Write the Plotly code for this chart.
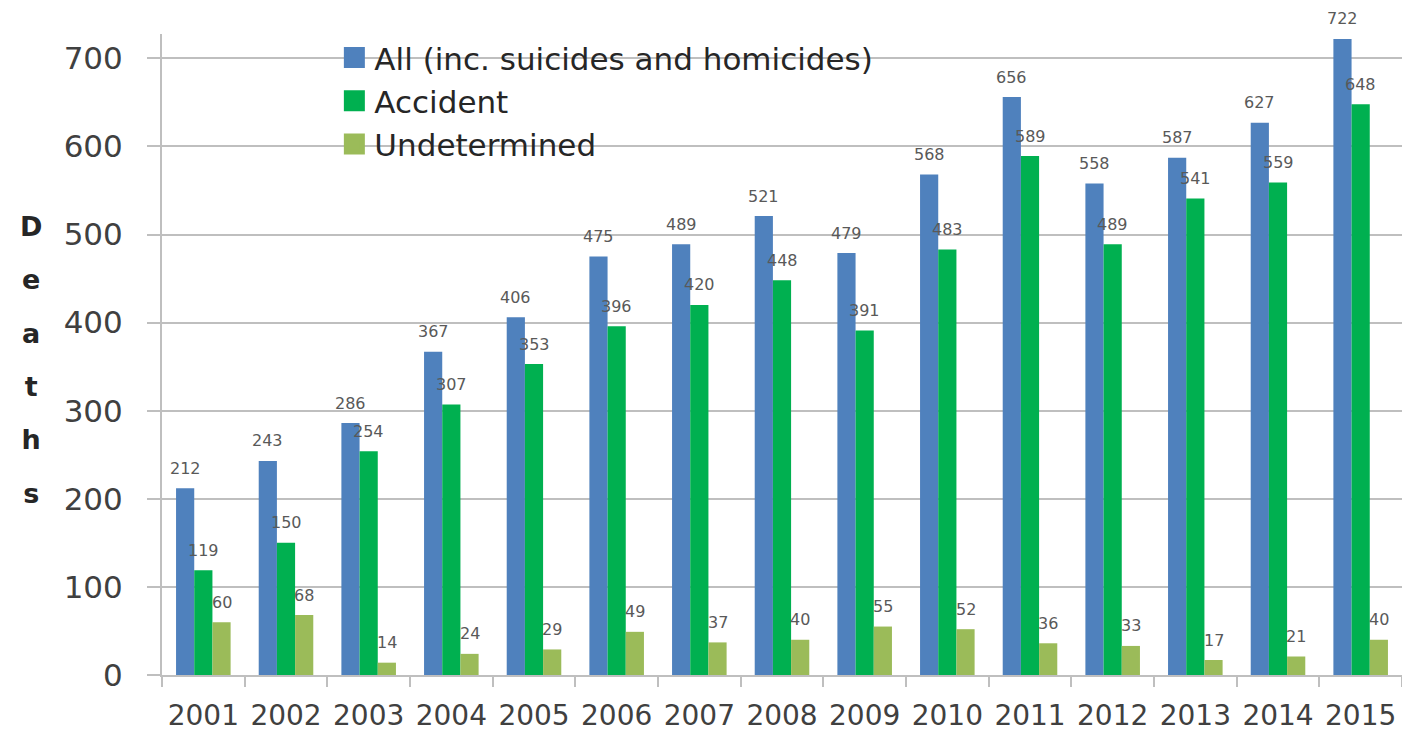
import plotly.graph_objects as go

years = ["2001", "2002", "2003", "2004", "2005", "2006", "2007", "2008",
         "2009", "2010", "2011", "2012", "2013", "2014", "2015"]
all_deaths = [212, 243, 286, 367, 406, 475, 489, 521, 479, 568, 656, 558, 587, 627, 722]
accident = [119, 150, 254, 307, 353, 396, 420, 448, 391, 483, 589, 489, 541, 559, 648]
undetermined = [60, 68, 14, 24, 29, 49, 37, 40, 55, 52, 36, 33, 17, 21, 40]

series = [
    ("All (inc. suicides and homicides)", all_deaths, "#4F81BD"),
    ("Accident", accident, "#00B050"),
    ("Undetermined", undetermined, "#9BBB59"),
]

BARGAP = 0.34
FONT = "DejaVu Sans"

fig = go.Figure()
for name, vals, col in series:
    fig.add_trace(go.Bar(x=years, y=vals, name=name, marker=dict(color=col, line=dict(width=0)),
                         showlegend=False))
# legend proxies (bigger square swatches)
for name, vals, col in series:
    fig.add_trace(go.Scatter(x=[None], y=[None], mode="markers", name=name,
                             marker=dict(symbol="square", size=16, color=col,
                                         line=dict(color=col, width=5))))

# data labels above bars
bw = (1 - BARGAP) / len(series)
annotations = []
for k, (name, vals, col) in enumerate(series):
    off = (k - (len(series) - 1) / 2) * bw
    for i, v in enumerate(vals):
        annotations.append(dict(x=i + off, y=v, xref="x", yref="y", text=str(v),
                                showarrow=False, yshift=20, yanchor="middle",
                                font=dict(family=FONT, size=16, color="#595959")))

annotations.append(dict(xref="paper", yref="paper", x=-0.106, y=0.5, xanchor="center",
                        yanchor="middle", showarrow=False, yshift=-5,
                        text="<br>".join("<span style='font-size:27px'><b>%s</b></span>" % c for c in "Deaths"),
                        font=dict(family=FONT, size=41, color="#262626")))

fig.update_layout(
    width=1402, height=732,
    margin=dict(l=162, r=0, t=34, b=57, autoexpand=False),
    paper_bgcolor="white", plot_bgcolor="white",
    barmode="group", bargap=BARGAP, bargroupgap=0,
    font=dict(family=FONT, color="#262626"),
    showlegend=True,
    legend=dict(x=0.139, y=1.005, xanchor="left", yanchor="top",
                bgcolor="rgba(0,0,0,0)", font=dict(family=FONT, size=31, color="#262626"),
                itemsizing="trace", tracegroupgap=0),
    annotations=annotations,
    xaxis=dict(type="category", showgrid=False, showline=True, linecolor="#BFBFBF", linewidth=2,
               ticks="outside", tickson="boundaries", ticklen=10, tickcolor="#BFBFBF", tickwidth=2,
               tickfont=dict(family=FONT, size=28, color="#404040"), ticklabelstandoff=14,
               tickangle=0, range=[-0.5, 14.5], automargin=False),
    yaxis=dict(range=[0, 727.6], dtick=100, showgrid=True, gridcolor="#BFBFBF", gridwidth=2,
               showline=True, linecolor="#BFBFBF", linewidth=2, zeroline=False,
               ticks="outside", ticklen=13, tickcolor="#BFBFBF", tickwidth=2,
               tickfont=dict(family=FONT, size=31, color="#404040"), ticklabelstandoff=18,
               automargin=False),
)
fig.update_traces(cliponaxis=False, selector=dict(type="bar"))

fig.write_html("out.html", config={"displayModeBar": False},
               post_script="document.body.style.margin='0';")
